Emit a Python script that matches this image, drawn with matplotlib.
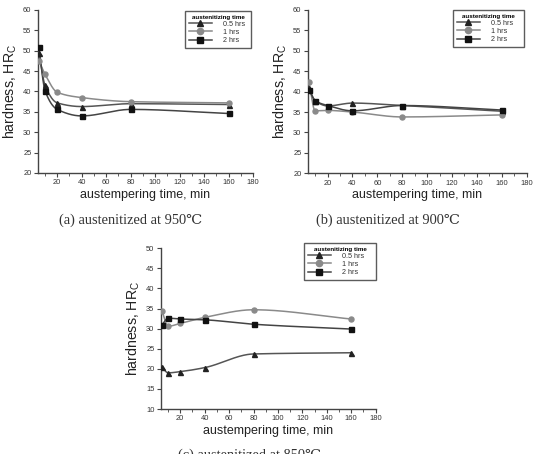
"""Твёрдость после изотермической закалки: три панели (950, 900, 850 ℃)."""

import matplotlib

matplotlib.use("Agg")
import matplotlib.pyplot as plt
import numpy as np
from matplotlib.ticker import MultipleLocator

# Время изотермической выдержки, мин
times = [5, 10, 20, 40, 80, 160]

# (a) аустенитизация 950 ℃
hrc_950_05 = [49.5, 41.5, 37.2, 36.3, 37.0, 36.8]
hrc_950_1 = [47.5, 44.2, 39.8, 38.5, 37.5, 37.2]
hrc_950_2 = [50.8, 40.2, 35.6, 34.0, 35.6, 34.6]

# (b) аустенитизация 900 ℃
hrc_900_05 = [40.8, 37.8, 36.5, 37.2, 36.6, 35.2]
hrc_900_1 = [42.3, 35.3, 35.4, 35.0, 33.8, 34.3]
hrc_900_2 = [40.5, 37.8, 36.6, 35.3, 36.6, 35.5]

# (c) аустенитизация 850 ℃
hrc_850_05 = [20.5, 19.0, 19.3, 20.3, 23.7, 24.0]
hrc_850_1 = [34.5, 30.6, 31.3, 32.8, 34.7, 32.4]
hrc_850_2 = [30.9, 32.6, 32.4, 32.2, 31.1, 29.9]

series_labels = ["0.5 hrs", "1 hrs", "2 hrs"]
captions = [
    "(a) austenitized at 950\u2103",
    "(b) austenitized at 900\u2103",
    "(c) austenitized at 850\u2103",
]

SANS = ["Liberation Sans", "DejaVu Sans"]
SERIF = ["Liberation Serif", "DejaVu Serif"]

styles = [
    {"marker": "^", "color": "#555555", "mfc": "#222222", "mec": "#222222"},
    {"marker": "o", "color": "#8a8a8a", "mfc": "#8a8a8a", "mec": "#8a8a8a"},
    {"marker": "s", "color": "#444444", "mfc": "#111111", "mec": "#111111"},
]


def smooth_curve(x, y, n=300):
    """Гладкая линия через точки (монотонный кубический Эрмит, PCHIP)."""
    x = np.asarray(x, float)
    y = np.asarray(y, float)
    h = np.diff(x)
    delta = np.diff(y) / h
    d = np.zeros_like(y)
    for i in range(1, len(x) - 1):
        if delta[i - 1] * delta[i] > 0:
            w1 = 2 * h[i] + h[i - 1]
            w2 = h[i] + 2 * h[i - 1]
            d[i] = (w1 + w2) / (w1 / delta[i - 1] + w2 / delta[i])
    d[0] = delta[0]
    d[-1] = delta[-1]
    xs = np.linspace(x[0], x[-1], n)
    idx = np.clip(np.searchsorted(x, xs) - 1, 0, len(x) - 2)
    t = (xs - x[idx]) / h[idx]
    h00 = 2 * t**3 - 3 * t**2 + 1
    h10 = t**3 - 2 * t**2 + t
    h01 = -2 * t**3 + 3 * t**2
    h11 = t**3 - t**2
    ys = h00 * y[idx] + h10 * h[idx] * d[idx] + h01 * y[idx + 1] + h11 * h[idx] * d[idx + 1]
    return xs, ys


def draw_panel(fig, rect, data, ylim, legend_rect, caption, caption_xy):
    ax = fig.add_axes(rect)
    handles = []
    for vals, st, lab in zip(data, styles, series_labels):
        xs, ys = smooth_curve(times, vals)
        ax.plot(xs, ys, color=st["color"], linewidth=1.1, zorder=2)
        ax.plot(times, vals, linestyle="none", marker=st["marker"], markersize=3.6,
                markerfacecolor=st["mfc"], markeredgecolor=st["mec"], zorder=3)
        (h,) = ax.plot([], [], color=st["color"], linewidth=1.1, marker=st["marker"],
                       markersize=4.5, markerfacecolor=st["mfc"], markeredgecolor=st["mec"])
        handles.append(h)

    ax.set_xlim(4, 180)
    ax.set_ylim(*ylim)
    ax.xaxis.set_major_locator(MultipleLocator(20))
    ax.xaxis.set_minor_locator(MultipleLocator(10))
    ax.yaxis.set_major_locator(MultipleLocator(5))
    ax.set_xticks(range(20, 181, 20))
    for side in ("top", "right"):
        ax.spines[side].set_visible(False)
    for side in ("left", "bottom"):
        ax.spines[side].set_color("#444444")
        ax.spines[side].set_linewidth(1.0)
    ax.tick_params(which="major", direction="out", length=3, width=0.8, color="#444444",
                   labelsize=5.4, labelcolor="#333333", pad=1.5)
    ax.tick_params(which="minor", direction="out", length=1.8, width=0.6, color="#444444")
    for lbl in ax.get_xticklabels() + ax.get_yticklabels():
        lbl.set_family(SANS)

    ax.set_xlabel("austempering time, min", fontsize=9, family=SANS, color="#222222", labelpad=2)
    ax.set_ylabel("hardness, HR$_\\mathregular{C}$", fontsize=10.2, family=SANS, color="#222222",
                  labelpad=3)

    leg = ax.legend(handles, series_labels, title="austenitizing time", loc="upper left",
                    bbox_to_anchor=legend_rect, bbox_transform=fig.transFigure, mode="expand",
                    fontsize=5.2, title_fontsize=4.5, frameon=True, fancybox=False,
                    handlelength=3.2, handletextpad=1.6, labelspacing=0.15, borderpad=0.5,
                    borderaxespad=0)
    leg.get_frame().set_edgecolor("#333333")
    leg.get_frame().set_linewidth(1.0)
    leg.get_title().set_fontweight("bold")
    leg.get_title().set_family(SANS)
    for t in leg.get_texts():
        t.set_family(SANS)
        t.set_color("#333333")

    fig.text(caption_xy[0], caption_xy[1], caption, ha="center", va="center",
             fontsize=10.4, family=SERIF, color="#333333")
    return ax


fig = plt.figure(figsize=(5.40, 4.54), dpi=100)

# Прямоугольник легенды: (левый край, нижний край, ширина, высота) в долях фигуры
draw_panel(fig, [0.0698, 0.619, 0.3987, 0.359],
           [hrc_950_05, hrc_950_1, hrc_950_2], (20, 60),
           (185 / 540, 1 - 54 / 454, 66 / 540, 43 / 454),
           captions[0], (131 / 540, 1 - 220 / 454))

draw_panel(fig, [0.5698, 0.6183, 0.4056, 0.3597],
           [hrc_900_05, hrc_900_1, hrc_900_2], (20, 60),
           (453 / 540, 1 - 63 / 454, 71 / 540, 53 / 454),
           captions[1], (388 / 540, 1 - 220 / 454))

draw_panel(fig, [0.2976, 0.0991, 0.398, 0.354],
           [hrc_850_05, hrc_850_1, hrc_850_2], (10, 50),
           (304 / 540, 1 - 286 / 454, 72 / 540, 43 / 454),
           captions[2], (250 / 540, 1 - 455 / 454))

fig.savefig("out.png", dpi=100)
